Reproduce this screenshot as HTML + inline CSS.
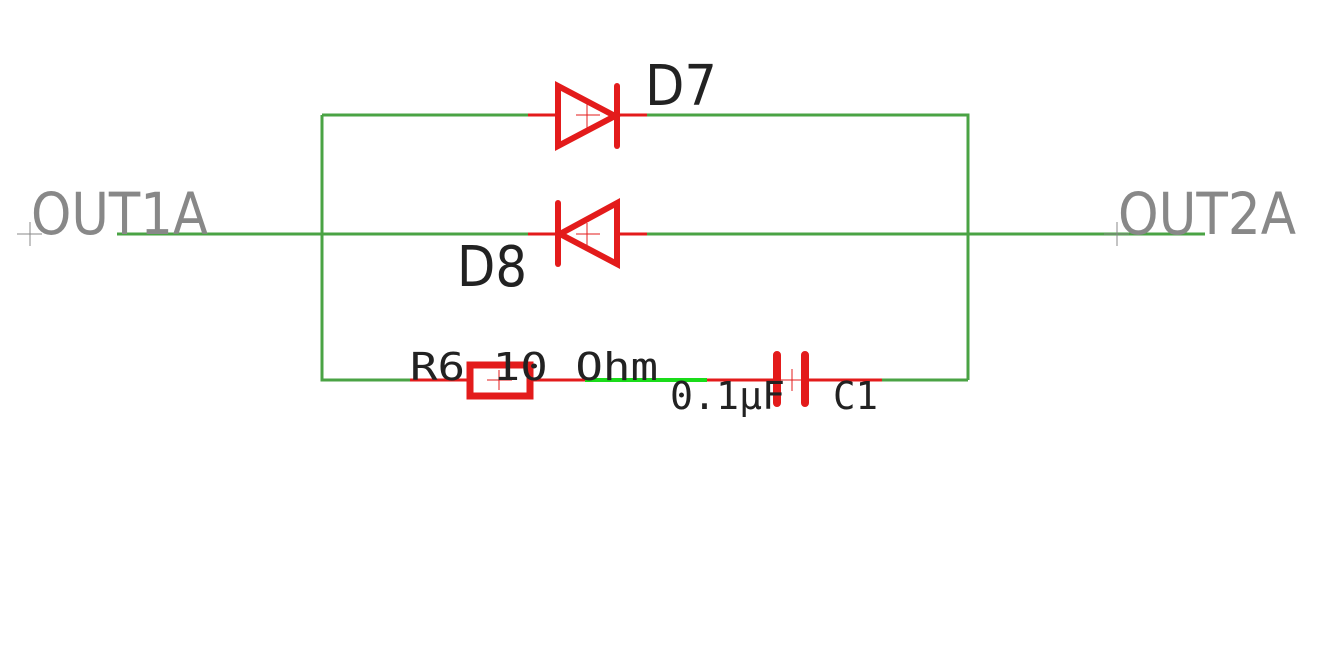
<!DOCTYPE html>
<html><head><style>html,body{margin:0;padding:0;background:#fff}svg{display:block}</style></head>
<body>
<svg width="1335" height="648" viewBox="0 0 1335 648" xmlns="http://www.w3.org/2000/svg">
<g stroke="#4aa344" stroke-width="3" fill="none">
<path d="M322 115H528M647 115H968V380M322 115V380H410M882 380H968M117 234H528M647 234H1205"/>
</g>
<path d="M585 380H707" stroke="#1adc1a" stroke-width="4"/>
<g stroke="#e31b1b" stroke-width="3" fill="none">
<path d="M410 380H467M533 380H585M707 380H777M805 380H882"/>
<path d="M528 115H556M617 115H647M528 234H558M617 234H647"/>
</g>
<g stroke="#e31b1b" stroke-width="6" fill="none" stroke-linejoin="miter" stroke-linecap="round">
<path d="M558 86V146L615 116Z"/>
<path d="M617 86V146"/>
<path d="M617 203V264L560 234Z"/>
<path d="M558 203V264"/>
<rect x="470" y="365" width="60" height="31" stroke-width="7"/>
<path d="M777 355V403M805 355V403" stroke-width="8"/>
</g>
<g stroke="#e31b1b" stroke-width="1">
<path d="M576 115H600M587 104V128M576 234H600M587 223V245M487 380H512M499 370V390M781 380H803M792 369V391"/>
</g>
<g stroke="#888" stroke-width="1"><path d="M17 234H42M30 222V246M1104 234H1129M1117 222V246"/></g>
<g font-family="DejaVu Sans, Liberation Sans, sans-serif">
<text x="31" y="234" font-size="58" fill="#888" textLength="177" lengthAdjust="spacingAndGlyphs">OUT1A</text>
<text x="1118" y="234" font-size="58" fill="#888" textLength="178" lengthAdjust="spacingAndGlyphs">OUT2A</text>
<text x="645" y="105" font-size="56" fill="#222" textLength="72" lengthAdjust="spacingAndGlyphs">D7</text>
<text x="457" y="286" font-size="56" fill="#222" textLength="70" lengthAdjust="spacingAndGlyphs">D8</text>
</g>
<g font-family="DejaVu Sans Mono, Liberation Mono, monospace" font-size="38" fill="#222">
<text x="410" y="380" textLength="248" lengthAdjust="spacingAndGlyphs">R6 10 Ohm</text>
<text x="670" y="409" textLength="115" lengthAdjust="spacingAndGlyphs">0.1μF</text>
<text x="833" y="409" textLength="45" lengthAdjust="spacingAndGlyphs">C1</text>
</g>
</svg>
</body></html>
